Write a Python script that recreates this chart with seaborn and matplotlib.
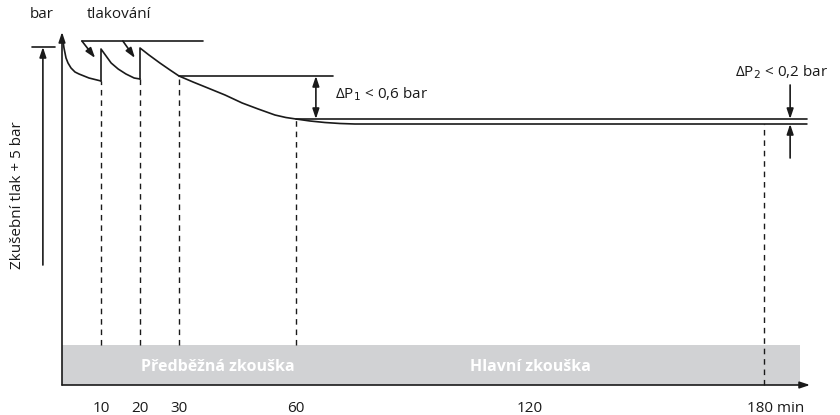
import matplotlib
matplotlib.use("Agg")
import matplotlib.pyplot as plt
import seaborn as sns
import pandas as pd

# pressure curve (min, relative pressure)
seg1_t = [0.26, 0.51, 0.77, 1.03, 1.54, 2.31, 3.33, 4.36, 6.92, 10]
seg1_p = [34.4, 33.7, 33.2, 32.7, 32.2, 31.7, 31.3, 31.1, 30.7, 30.4]
seg2_t = [10, 10, 11.3, 12.6, 14.4, 16.4, 18.5, 20]
seg2_p = [30.4, 33.6, 32.9, 32.2, 31.6, 31.1, 30.7, 30.6]
seg3_t = [20, 20, 22.3, 25.1, 27.7, 30, 33.6, 37.4, 41.8, 46.2, 50.3, 54.6,
          57.4, 60, 63.6, 67.4, 71.3, 75.1, 191]
seg3_p = [30.6, 33.7, 33.0, 32.2, 31.5, 30.9, 30.3, 29.7, 29.0, 28.2, 27.6, 27.0,
          26.75, 26.6, 26.4, 26.25, 26.15, 26.1, 26.1]

marks_t = [10, 20, 30, 60, 180]
marks_p = [30.4, 30.6, 30.9, 26.6, 26.1]
tick_vals = [10, 20, 30, 60, 120]
tick_labels = ["10", "20", "30", "60", "120"]

p_start = 33.8
p_30 = 30.9
p_60 = 26.6
p_end = 26.1
band_top = 4.0

rows = []
for name, ts, ps in [("s1", seg1_t, seg1_p), ("s2", seg2_t, seg2_p), ("s3", seg3_t, seg3_p)]:
    for t, p in zip(ts, ps):
        rows.append({"seg": name, "t": t, "p": p})
curve = pd.DataFrame(rows)

sns.set_style("white")
plt.rcParams["font.family"] = ["Open Sans", "DejaVu Sans"]
ink = "#1a1a1a"
fs = 11

fig = plt.figure(figsize=(8.4, 4.15), dpi=100)
ax = fig.add_axes([0, 0, 1, 1])
ax.set_xlim(-62 / 3.9, (840 - 62) / 3.9)
ax.set_ylim(-3.0, 38.5)
ax.axis("off")

# gray band with phases
ax.fill_between([0, 189.2], 0, band_top, color="#d1d2d4", lw=0, zorder=0)
ax.text(40, 1.8, "Předběžná zkouška", color="white", fontweight="bold",
        ha="center", va="center", fontsize=11.5)
ax.text(120, 1.8, "Hlavní zkouška", color="white", fontweight="bold",
        ha="center", va="center", fontsize=11.5)

# the curve
sns.lineplot(data=curve, x="t", y="p", units="seg", estimator=None, sort=False,
             color=ink, lw=1.2, ax=ax, legend=False)
ax.set_xlabel("")
ax.set_ylabel("")

# second flat line (end pressure)
ax.plot([60, 191], [p_60, p_60], color=ink, lw=1.2)

# dashed markers
for t, p in zip(marks_t, marks_p):
    bottom = 0 if t == 180 else band_top
    ax.plot([t, t], [bottom, p], color=ink, lw=1.0, ls=(0, (4, 3.5)))

# axes with arrows
arr = dict(arrowstyle="-|>,head_width=0.2,head_length=0.6", color=ink, lw=1.2,
           shrinkA=0, shrinkB=0)
ax.annotate("", xy=(0, 35.3), xytext=(0, 0), arrowprops=arr)
ax.annotate("", xy=(191.8, 0), xytext=(0, 0), arrowprops=arr)

for t, lab in zip(tick_vals, tick_labels):
    ax.text(t, -2.3, lab, ha="center", va="center", fontsize=fs, color=ink)
ax.text(175.6, -2.3, "180 min", ha="left", va="center", fontsize=fs, color=ink)

# left test pressure marker
ax.plot([-7.7, -1.8], [p_start, p_start], color=ink, lw=1.2)
ax.annotate("", xy=(-4.9, p_start), xytext=(-4.9, 12.0), arrowprops=arr)
ax.text(-11.5, 19.0, "Zkušební tlak + 5 bar", rotation=90, ha="center",
        va="center", fontsize=fs, color=ink)
ax.text(-5.1, 37.0, "bar", ha="center", va="center", fontsize=fs, color=ink)

# pressurising
ax.text(14.6, 37.0, "tlakování", ha="center", va="center", fontsize=fs, color=ink)
ax.plot([5.1, 36.2], [34.4, 34.4], color=ink, lw=1.2)
ax.annotate("", xy=(8.5, 32.7), xytext=(5.1, 34.4), arrowprops=arr)
ax.annotate("", xy=(18.7, 32.7), xytext=(15.6, 34.4), arrowprops=arr)

# delta P1
dbl = dict(arrowstyle="<|-|>,head_width=0.2,head_length=0.6", color=ink, lw=1.2,
           shrinkA=0, shrinkB=0)
ax.plot([30, 69.5], [p_30, p_30], color=ink, lw=1.2)
ax.annotate("", xy=(65.1, p_30), xytext=(65.1, p_60), arrowprops=dbl)
ax.text(70, 29.1, "ΔP$_1$ < 0,6 bar", ha="left", va="center", fontsize=fs, color=ink)

# delta P2
ax.annotate("", xy=(186.7, p_60), xytext=(186.7, 30.0), arrowprops=arr)
ax.annotate("", xy=(186.7, p_end), xytext=(186.7, 22.7), arrowprops=arr)
ax.text(172.6, 31.3, "ΔP$_2$ < 0,2 bar", ha="left", va="center", fontsize=fs, color=ink)

fig.savefig("out.png", dpi=100)
